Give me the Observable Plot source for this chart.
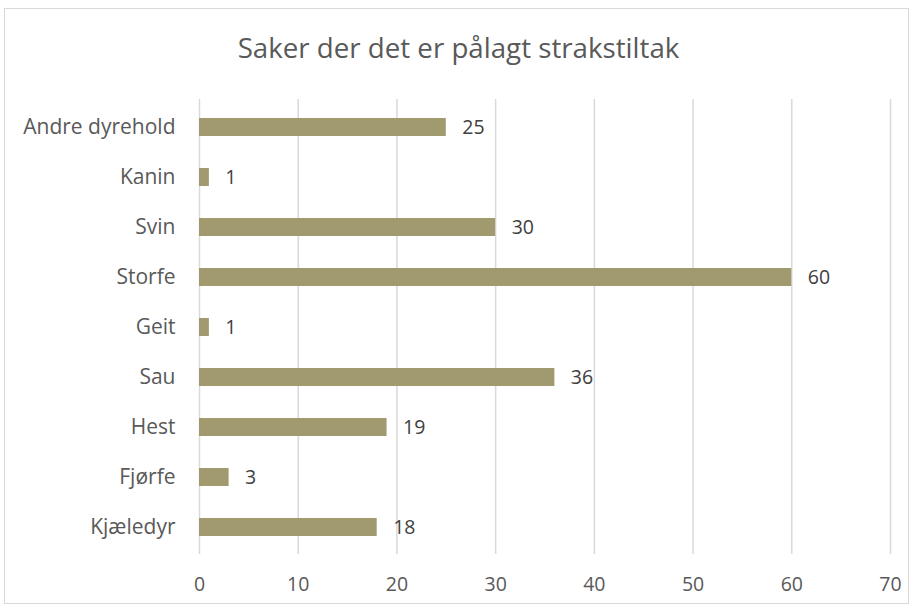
<!DOCTYPE html>
<html>
<head>
<meta charset="utf-8">
<script src="https://cdn.jsdelivr.net/npm/d3@7"></script>
<script src="https://cdn.jsdelivr.net/npm/@observablehq/plot@0.6"></script>
<style>
  html, body { margin: 0; padding: 0; background: #fff; }
  #wrap { position: relative; width: 917px; height: 610px; font-family: "Open Sans", sans-serif; }
  #frame { position: absolute; left: 4px; top: 8px; width: 905px; height: 596px; border: 1px solid #d9d9d9; box-sizing: border-box; pointer-events: none; }
  #title { position: absolute; left: 0; width: 917px; top: 28px; line-height: 38px; text-align: center; font-size: 27.7px; color: #595959; }
  #chart { position: absolute; left: 0; top: 0; }
</style>
</head>
<body>
<div id="wrap">
  <div id="chart"></div>
  <div id="frame"></div>
  <div id="title">Saker der det er pålagt strakstiltak</div>
</div>
<script>
const categories = ["Andre dyrehold", "Kanin", "Svin", "Storfe", "Geit", "Sau", "Hest", "Fjørfe", "Kjæledyr"];
const values = [25, 1, 30, 60, 1, 36, 19, 3, 18];
const xTicks = [0, 10, 20, 30, 40, 50, 60, 70];

const data = categories.map((c, i) => ({category: c, value: values[i]}));

const chart = Plot.plot({
  width: 917,
  height: 610,
  marginLeft: 199,
  marginRight: 27,
  marginTop: 99,
  marginBottom: 56,
  style: {fontFamily: "'Open Sans', sans-serif", fontSize: "19px", color: "#595959", background: "transparent"},
  x: {domain: [0, 70], label: null},
  y: {domain: categories, label: null, paddingInner: 0.64, paddingOuter: 0.32},
  marks: [
    Plot.ruleX(xTicks, {stroke: "#d9d9d9", strokeWidth: 1.5, strokeOpacity: 1}),
    Plot.barX(data, {x: "value", y: "category", fill: "#a09a6e"}),
    Plot.text(data, {x: "value", y: "category", text: d => String(d.value), textAnchor: "start", dx: 16, fill: "#404040", fontSize: 19.5}),
    Plot.axisX({ticks: xTicks, tickSize: 0, tickPadding: 23, fontSize: 19.5, label: null, fill: "#595959"}),
    Plot.axisY({tickSize: 0, tickPadding: 24, fontSize: 21, label: null, fill: "#595959"})
  ]
});
document.getElementById("chart").appendChild(chart);
</script>
</body>
</html>
